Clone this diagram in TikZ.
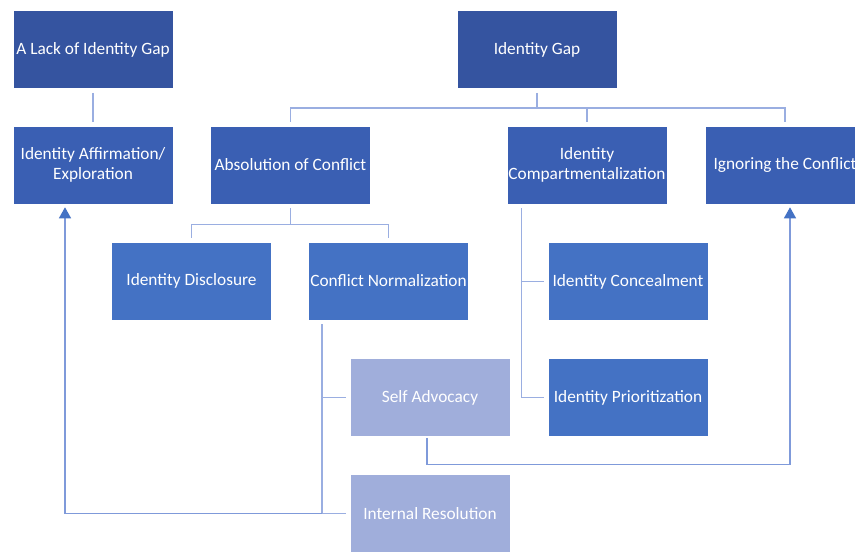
\documentclass[tikz,border=0pt]{standalone}
\usepackage{fontspec}
\setmainfont{Carlito}
\usetikzlibrary{arrows.meta}
\definecolor{lvA}{HTML}{3554A0}
\definecolor{lvB}{HTML}{3A5FB3}
\definecolor{lvC}{HTML}{4472C4}
\definecolor{lvD}{HTML}{A0AEDB}
\definecolor{connC}{HTML}{9AAEE1}
\definecolor{arrC}{HTML}{7F9ADA}
\begin{document}
\begin{tikzpicture}[x=1pt,y=-1pt,
  box/.style={rectangle, minimum width=160pt, minimum height=78pt, inner sep=0pt,
    draw=white, line width=0.6pt, text=white, align=center,
    font=\fontsize{17.3}{19.5}\selectfont},
  conn/.style={draw=connC, line width=1.5pt},
  arr/.style={draw=arrC, line width=1.3pt, -{Triangle[width=12pt,length=11pt,color=lvC]}}]
\useasboundingbox (0,0) rectangle (855,553);
\clip (0,0) rectangle (855,553);
\fill[white] (0,0) rectangle (855,553);

\node[box,fill=lvA] (lack) at (93,49.5) {A Lack of Identity Gap};
\node[box,fill=lvA] (gap) at (537,49.5) {Identity Gap};
\node[box,fill=lvB] (aff) at (93,165) {Identity Affirmation/\\Exploration};
\node[box,fill=lvB] (abs) at (290.5,165) {Absolution of Conflict};
\node[box,fill=lvB] (comp) at (587,165) {Identity\\Compartmentalization};
\node[box,fill=lvB] (ign) at (785,165) {Ignoring the Conflict};
\node[box,fill=lvC] (disc) at (191.5,281) {Identity Disclosure};
\node[box,fill=lvC] (norm) at (388.5,281) {Conflict Normalization};
\node[box,fill=lvC] (conc) at (628,281.5) {Identity Concealment};
\node[box,fill=lvC] (prio) at (628,397.5) {Identity Prioritization};
\node[box,fill=lvD] (self) at (430,397.5) {Self Advocacy};
\node[box,fill=lvD] (intr) at (430,513.5) {Internal Resolution};

% lack -> affirmation
\draw[conn,shorten <=4pt,shorten >=4pt] (lack) -- (aff);

% identity gap tree
\coordinate (gh) at ([yshift=-19pt]gap.south);
\draw[conn] ([yshift=-4pt]gap.south) -- (gh);
\draw[conn] ([yshift=4pt]abs.north) |- (gh) -| ([yshift=4pt]ign.north);
\draw[conn] (comp.north |- gh) -- ([yshift=4pt]comp.north);

% absolution tree
\coordinate (ah) at ([yshift=-20pt]abs.south);
\draw[conn] ([yshift=-4pt]abs.south) -- (ah);
\draw[conn] ([yshift=4pt]disc.north) |- (ah) -| ([yshift=4pt]norm.north);

% compartmentalization spine
\coordinate (cs) at ([xshift=15pt,yshift=-4pt]comp.south west);
\draw[conn] (cs) |- ([xshift=-4pt]prio.west);
\draw[conn] (cs |- conc.west) -- ([xshift=-4pt]conc.west);

% normalization spine
\coordinate (ns) at ([xshift=14pt,yshift=-4pt]norm.south west);
\draw[conn] (ns) |- ([xshift=-4pt]intr.west);
\draw[conn] (ns |- self.west) -- ([xshift=-4pt]self.west);

% arrows
\draw[arr] (ns |- intr.west) -| ([xshift=-28pt,yshift=-3pt]aff.south);
\draw[arr] ([xshift=-3pt,yshift=-1pt]self.south) -- ++(0,27) -| ([xshift=5pt,yshift=-3pt]ign.south);
\end{tikzpicture}
\end{document}
